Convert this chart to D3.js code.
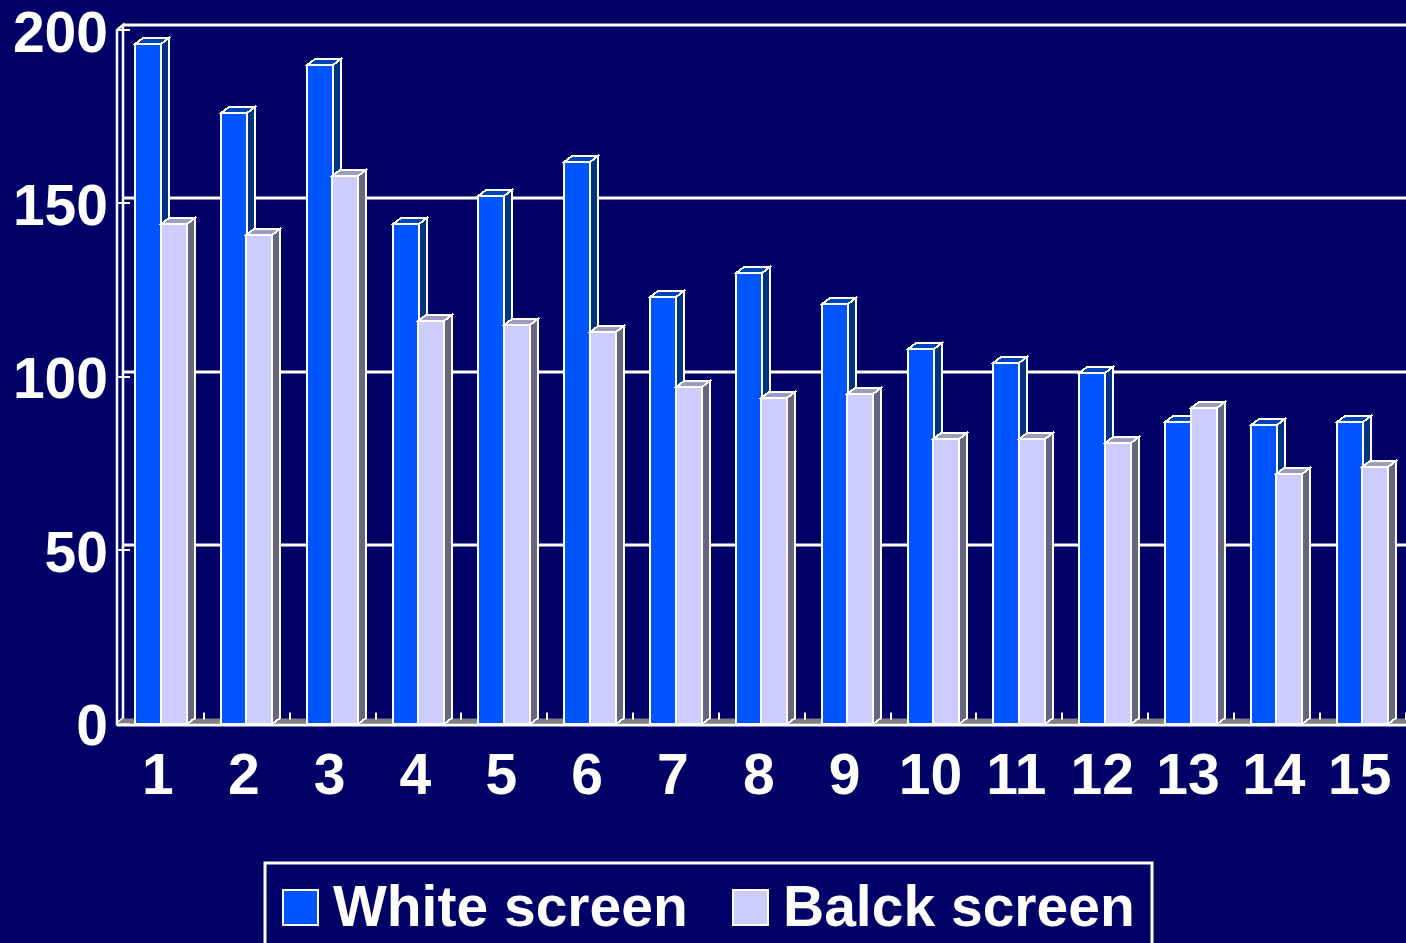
<!DOCTYPE html>
<html>
<head>
<meta charset="utf-8">
<script src="https://cdn.jsdelivr.net/npm/d3@7"></script>
<style>
  html, body { margin: 0; padding: 0; background: #000066; }
  svg { display: block; }
</style>
</head>
<body>
<svg id="chart" width="1406" height="943"></svg>
<script>
// Data
const categories = ['1','2','3','4','5','6','7','8','9','10','11','12','13','14','15'];
const whiteScreen = [196, 176, 190, 144, 152, 162, 123, 130, 121, 108, 104, 101, 87, 86, 87];
const blackScreen = [144, 141, 158, 116, 115, 113, 97, 94, 95, 82, 82, 81, 91, 72, 74];
const seriesNames = ['White screen', 'Balck screen'];
const yTicks = [0, 50, 100, 150, 200];

const W = 1406, H = 943;
const FONT = '"Liberation Sans", Arial, Helvetica, sans-serif';
const FS = '57px';

// 3D look: bar depth and wall depth offsets
const DX = 8, DY = -6;
const WX = 6, WY = -5;

const seriesStyle = [
  { front: '#0055ff', side: '#003380', top: '#0044bb' },
  { front: '#ccccff', side: '#666680', top: '#9c9cc2' }
];

const svg = d3.select('#chart');
svg.append('rect').attr('width', W).attr('height', H).attr('fill', '#000066');

const left = 117, right = 117 + 15 * 85.84;
const x0 = d3.scaleBand().domain(categories).range([left, right]).padding(0);
const x1 = d3.scaleBand().domain([0, 1]).range([18, 69]).padding(0);
const y = d3.scaleLinear().domain([0, 200]).range([723.5, 30]);

// Back wall gridlines
svg.append('g').selectAll('line').data(yTicks.filter(d => d > 0)).join('line')
  .attr('x1', left + WX).attr('x2', W)
  .attr('y1', d => Math.round(y(d) + WY)).attr('y2', d => Math.round(y(d) + WY))
  .attr('stroke', '#ffffff').attr('stroke-width', 3);

// Left side wall
const wall = svg.append('g');
wall.append('path')
  .attr('d', `M${left},${y(200)} L${left + WX},${y(200) + WY} L${left + WX},${y(0) + WY} L${left},${y(0)} Z`)
  .attr('fill', '#000066').attr('stroke', '#ffffff').attr('stroke-width', 2.5);
wall.selectAll('line').data(yTicks).join('line')
  .attr('x1', left).attr('x2', left + 13)
  .attr('y1', d => Math.round(y(d))).attr('y2', d => Math.round(y(d)))
  .attr('stroke', '#ffffff').attr('stroke-width', 2);

// Floor
svg.append('path')
  .attr('d', `M${left},${y(0)} L${left + WX},${y(0) + WY} L${W + 10},${y(0) + WY} L${W + 10},${y(0)} Z`)
  .attr('fill', '#808080');
svg.append('g').selectAll('line').data(categories).join('line')
  .attr('x1', d => Math.round(x0(d) + x0.bandwidth()) + 1).attr('x2', d => Math.round(x0(d) + x0.bandwidth()) + 1)
  .attr('y1', y(0) - 11).attr('y2', y(0) - 4)
  .attr('stroke', '#ffffff').attr('stroke-width', 2);

// Bars (front, side and top faces)
const rows = categories.map((c, i) => ({ c, vals: [whiteScreen[i], blackScreen[i]] }));
const barsG = svg.append('g').attr('shape-rendering', 'crispEdges');
rows.forEach(r => {
  r.vals.forEach((v, s) => {
    const bx = Math.round(x0(r.c) + x1(s)), bw = Math.round(x1.bandwidth());
    const yt = Math.round(y(v)), yb = Math.round(y(0));
    const st = seriesStyle[s];
    const g = barsG.append('g')
      .attr('stroke', '#ffffff').attr('stroke-width', 2).attr('stroke-linejoin', 'miter');
    g.append('path')
      .attr('d', `M${bx + bw},${yt} L${bx + bw + DX},${yt + DY} L${bx + bw + DX},${yb + DY} L${bx + bw},${yb} Z`)
      .attr('fill', st.side);
    g.append('path')
      .attr('d', `M${bx},${yt} L${bx + DX},${yt + DY} L${bx + bw + DX},${yt + DY} L${bx + bw},${yt} Z`)
      .attr('fill', st.top);
    g.append('rect')
      .attr('x', bx).attr('y', yt).attr('width', bw).attr('height', yb - yt)
      .attr('fill', st.front);
  });
});

// Front floor edge
svg.append('line')
  .attr('x1', left).attr('x2', W).attr('y1', 725).attr('y2', 725)
  .attr('stroke', '#ffffff').attr('stroke-width', 3);

// Y axis labels
const yAxis = svg.append('g').attr('transform', 'translate(108,0)')
  .call(d3.axisLeft(y).tickValues(yTicks).tickSize(0).tickPadding(0));
yAxis.select('.domain').remove();
yAxis.selectAll('text')
  .attr('dy', '0.37em')
  .attr('fill', '#ffffff').style('font-family', FONT).style('font-weight', 'bold').style('font-size', FS);

// X axis labels
const xAxis = svg.append('g').attr('transform', `translate(-2,${y(0)})`)
  .call(d3.axisBottom(x0).tickSize(0).tickPadding(30));
xAxis.select('.domain').remove();
xAxis.selectAll('text')
  .attr('fill', '#ffffff').style('font-family', FONT).style('font-weight', 'bold').style('font-size', FS);

// Legend
const legend = svg.append('g');
legend.append('rect')
  .attr('x', 265).attr('y', 863).attr('width', 887).attr('height', 120)
  .attr('fill', 'none').attr('stroke', '#ffffff').attr('stroke-width', 3);
const legendX = [283, 733];
seriesNames.forEach((name, i) => {
  legend.append('rect')
    .attr('x', legendX[i]).attr('y', 890).attr('width', 35).attr('height', 35)
    .attr('fill', seriesStyle[i].front).attr('stroke', '#ffffff').attr('stroke-width', 2);
  legend.append('text')
    .attr('x', legendX[i] + 50).attr('y', 926)
    .attr('fill', '#ffffff').style('font-family', FONT).style('font-weight', 'bold').style('font-size', FS)
    .text(name);
});
</script>
</body>
</html>
